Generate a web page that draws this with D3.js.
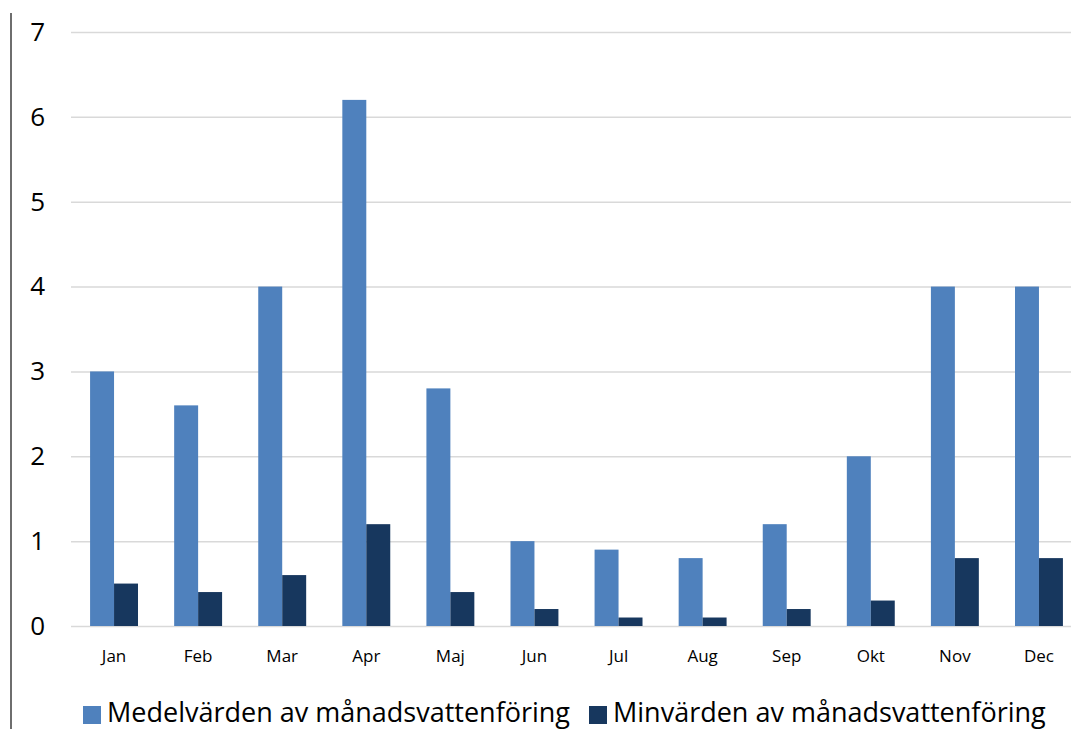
<!doctype html>
<html lang="en">
<head>
  <meta charset="utf-8">
  <title>vattenföring</title>
  <style>
    body { margin: 0; background: #fff; }
    .axis text { font-family: "Open Sans", sans-serif; fill: #000; }
    .axis path { display: none; }
    .axis--y line { stroke: #d9d9d9; stroke-width: 1.5; }
    .axis--x line { display: none; }
    .legend text { font-family: "Open Sans", sans-serif; font-size: 27px; fill: #000; }
  </style>
</head>
<body>
  <div class="chart"></div>
  <script src="https://d3js.org/d3.v7.min.js"></script>
  <script>
    'use strict';

    const months = ['Jan', 'Feb', 'Mar', 'Apr', 'Maj', 'Jun', 'Jul', 'Aug', 'Sep', 'Okt', 'Nov', 'Dec'];
    const medel = [3.0, 2.6, 4.0, 6.2, 2.8, 1.0, 0.9, 0.8, 1.2, 2.0, 4.0, 4.0];
    const minv = [0.5, 0.4, 0.6, 1.2, 0.4, 0.2, 0.1, 0.1, 0.2, 0.3, 0.8, 0.8];
    const seriesNames = ['Medelvärden av månadsvattenföring', 'Minvärden av månadsvattenföring'];
    const seriesColors = ['#4f81bd', '#17375e'];
    const yTicks = [0, 1, 2, 3, 4, 5, 6, 7];

    const width = 1074;
    const height = 729;

    const svg = d3.select('.chart').append('svg')
      .attr('width', width)
      .attr('height', height);

    const xScale = d3.scaleBand()
      .domain(months)
      .range([72, 1081])
      .paddingInner(0.43)
      .paddingOuter(0.215);

    const xSeries = d3.scaleBand()
      .domain([0, 1])
      .range([0, xScale.bandwidth()]);

    const yScale = d3.scaleLinear()
      .domain([0, 7])
      .range([626, 32]);

    // left frame line
    svg.append('line')
      .attr('x1', 11).attr('x2', 11)
      .attr('y1', 13).attr('y2', height)
      .attr('stroke', '#6e6e6e')
      .attr('stroke-width', 2);

    // y axis with gridlines
    svg.append('g')
      .attr('class', 'axis axis--y')
      .attr('transform', 'translate(71,0)')
      .call(d3.axisLeft(yScale).tickValues(yTicks).tickSize(-1000).tickPadding(26).tickFormat(d3.format('d')))
      .selectAll('text')
      .attr('font-size', 26);

    // bars
    const rows = months.map((m, i) => ({ month: m, values: [medel[i], minv[i]] }));

    const groups = svg.append('g').attr('class', 'bars-g')
      .selectAll('g')
      .data(rows)
      .enter().append('g')
      .attr('transform', d => `translate(${xScale(d.month)},0)`);

    groups.selectAll('rect')
      .data(d => d.values.map((v, s) => ({ v, s })))
      .enter().append('rect')
      .attr('x', d => xSeries(d.s))
      .attr('y', d => yScale(d.v))
      .attr('width', xSeries.bandwidth())
      .attr('height', d => yScale(0) - yScale(d.v))
      .attr('fill', d => seriesColors[d.s]);

    // x axis
    svg.append('g')
      .attr('class', 'axis axis--x')
      .attr('transform', 'translate(0,626)')
      .call(d3.axisBottom(xScale).tickSize(0).tickPadding(24))
      .selectAll('text')
      .attr('font-size', 17);

    // legend
    const legend = svg.append('g').attr('class', 'legend');
    const legendX = [83, 589];
    seriesNames.forEach((name, i) => {
      legend.append('rect')
        .attr('x', legendX[i]).attr('y', 706)
        .attr('width', 18).attr('height', 18)
        .attr('fill', seriesColors[i]);
      legend.append('text')
        .attr('x', legendX[i] + 24)
        .attr('y', 722)
        .text(name);
    });
  </script>
</body>
</html>
